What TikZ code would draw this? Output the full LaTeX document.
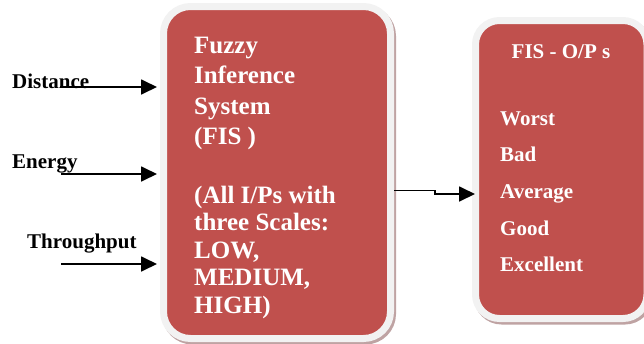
\documentclass[tikz,border=0pt]{standalone}
\usepackage{fontspec}
\setmainfont{Liberation Serif}
\usetikzlibrary{arrows.meta,shadows}
\definecolor{boxred}{HTML}{C0504D}
\definecolor{boxrim}{HTML}{F2F2F2}
\definecolor{boxshade}{HTML}{BFA3A3}
\begin{document}
\begin{tikzpicture}[x=1pt,y=-1pt,
  panel/.style={draw=boxrim, fill=boxred, line width=7pt, inner sep=0pt,
    drop shadow={shadow xshift=2pt, shadow yshift=-2.5pt, fill=boxshade, draw=boxshade, line width=7pt, opacity=1}},
  boxtext/.style={text=white, font=\fontsize{25}{25}\selectfont\bfseries, inner sep=0pt, anchor=base west},
  outtext/.style={text=white, font=\fontsize{21}{21}\selectfont\bfseries, inner sep=0pt},
  labeltext/.style={text=black, font=\fontsize{21}{21}\selectfont\bfseries, inner sep=0pt, anchor=base west},
  conn/.style={line width=1.8pt, -{Triangle[length=16pt,width=15pt]}}
]
\useasboundingbox (0,0) rectangle (644,343);
% panels
\node[panel, rounded corners=27pt, minimum width=227pt, minimum height=332pt] (fis) at (277,172.5) {};
\node[panel, rounded corners=24pt, minimum width=171.5pt, minimum height=298pt] (out) at (561.25,169.5) {};
% FIS text
\node[boxtext] (fisa0) at (194,53) {Fuzzy};
\node[boxtext] (fisa1) at (194,83.6) {Inference};
\node[boxtext] (fisa2) at (194,114.2) {System};
\node[boxtext] (fisa3) at (194,144.8) {(FIS )};
\node[boxtext] (fisb0) at (194,203) {(All I/Ps with};
\node[boxtext] (fisb1) at (194,230.5) {three Scales:};
\node[boxtext] (fisb2) at (194,258) {LOW,};
\node[boxtext] (fisb3) at (194,285.5) {MEDIUM,};
\node[boxtext] (fisb4) at (194,313) {HIGH)};
% output text
\node[outtext, anchor=base] (outtitle) at (561,58) {FIS - O/P s};
\node[outtext, anchor=base west] (item0) at (500,125) {Worst};
\node[outtext, anchor=base west] (item1) at (500,161.7) {Bad};
\node[outtext, anchor=base west] (item2) at (500,198.4) {Average};
\node[outtext, anchor=base west] (item3) at (500,235.1) {Good};
\node[outtext, anchor=base west] (item4) at (500,271.8) {Excellent};
% input labels
\node[labeltext] (ldist) at (12,88) {Distance};
\node[labeltext] (lener) at (12,168) {Energy};
\node[labeltext] (lthru) at (27,248) {Throughput};
% input arrows
\coordinate (din) at (60,87);
\coordinate (ein) at (61,174);
\coordinate (tin) at (61,264);
\draw[conn, shorten >=3pt] (din) -- (din -| fis.west);
\draw[conn, shorten >=3pt] (ein) -- (ein -| fis.west);
\draw[conn, shorten >=3pt] (tin) -- (tin -| fis.west);
% output arrow
\coordinate (jog1) at (435,190.5);
\coordinate (jog2) at (435,194);
\draw[conn, shorten >=-3pt] (fis.east |- jog1) -- (jog1) -- (jog2) -- (jog2 -| out.west);
\end{tikzpicture}
\end{document}
